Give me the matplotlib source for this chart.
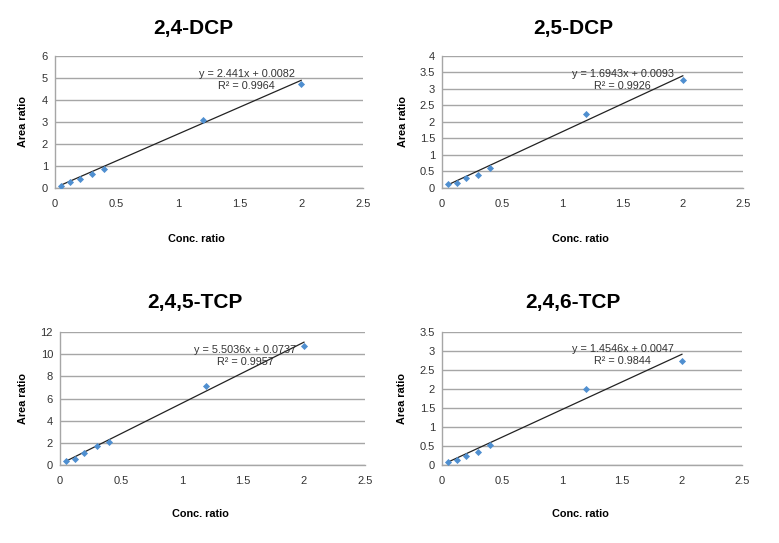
import numpy as np
import matplotlib
matplotlib.use("Agg")
import matplotlib.pyplot as plt
from matplotlib.ticker import FuncFormatter

plt.rcParams['font.family'] = ['Liberation Sans', 'DejaVu Sans']

# concentration ratios (same for every compound)
conc = [0.05, 0.125, 0.2, 0.3, 0.4, 1.2, 2.0]

titles = ['2,4-DCP', '2,5-DCP', '2,4,5-TCP', '2,4,6-TCP']

# measured area ratios
area_24dcp = [0.10, 0.26, 0.42, 0.63, 0.86, 3.10, 4.73]
area_25dcp = [0.12, 0.15, 0.30, 0.40, 0.60, 2.24, 3.26]
area_245tcp = [0.39, 0.54, 1.05, 1.74, 2.07, 7.14, 10.7]
area_246tcp = [0.07, 0.13, 0.24, 0.35, 0.53, 2.00, 2.74]

# trendline coefficients and R squared as printed
slopes = [2.441, 1.6943, 5.5036, 1.4546]
intercepts = [0.0082, 0.0093, 0.0737, 0.0047]
eq_texts = ['y = 2.441x + 0.0082', 'y = 1.6943x + 0.0093',
            'y = 5.5036x + 0.0737', 'y = 1.4546x + 0.0047']
r2_texts = ['R² = 0.9964', 'R² = 0.9926', 'R² = 0.9957', 'R² = 0.9844']

y_max = [6, 4, 12, 3.5]
y_step = [1, 0.5, 2, 0.5]

areas = [area_24dcp, area_25dcp, area_245tcp, area_246tcp]

# layout (figure fractions)
rects = [[0.0706, 0.654, 0.395, 0.243],
         [0.5674, 0.654, 0.3864, 0.243],
         [0.077, 0.1436, 0.3915, 0.245],
         [0.5674, 0.1436, 0.385, 0.245]]
title_pos = [(0.248, 0.948), (0.7356, 0.948), (0.25, 0.442), (0.7356, 0.442)]
ylab_x = [-0.088, -0.113, -0.105, -0.117]
xlab_y = [-0.35, -0.35, -0.33, -0.33]
eq_pos = [(0.623, 0.818), (0.60, 0.818), (0.607, 0.82), (0.603, 0.827)]

grid_c = '#a6a6a6'
fig = plt.figure(figsize=(7.79, 5.43), dpi=100)

for i in range(4):
    ax = fig.add_axes(rects[i])
    ax.set_xlim(0, 2.5)
    ax.set_ylim(0, y_max[i])
    ax.set_xticks(np.arange(0, 2.51, 0.5))
    ax.set_yticks(np.arange(0, y_max[i] + 1e-9, y_step[i]))
    fmt = FuncFormatter(lambda v, p: '{:g}'.format(round(v, 3)))
    ax.xaxis.set_major_formatter(fmt)
    ax.yaxis.set_major_formatter(fmt)
    ax.tick_params(length=0, labelsize=8, colors='#333333')
    ax.tick_params(axis='x', pad=8)
    ax.tick_params(axis='y', pad=5)
    ax.grid(axis='y', color=grid_c, lw=1.0)
    ax.set_axisbelow(True)
    for s in ['top', 'right']:
        ax.spines[s].set_visible(False)
    for s in ['left', 'bottom']:
        ax.spines[s].set_color(grid_c)
        ax.spines[s].set_linewidth(1.0)

    xs = np.array([conc[0], conc[-1]])
    ax.plot(xs, slopes[i] * xs + intercepts[i], color='#222222', lw=0.9, zorder=3)
    ax.scatter(conc, areas[i], marker='D', s=13, color='#4F8FD0', zorder=4,
               linewidths=0)

    ax.text(eq_pos[i][0], eq_pos[i][1], eq_texts[i] + '\n' + r2_texts[i],
            transform=ax.transAxes, ha='center', va='center',
            multialignment='center', fontsize=7.8, color='#333333',
            linespacing=1.2, zorder=5)

    ax.set_xlabel('Conc. ratio', fontsize=7.8, fontweight='bold')
    ax.xaxis.set_label_coords(0.46, xlab_y[i])
    ax.set_ylabel('Area ratio', fontsize=7.8, fontweight='bold')
    ax.yaxis.set_label_coords(ylab_x[i], 0.5)

    fig.text(title_pos[i][0], title_pos[i][1], titles[i], ha='center',
             va='center', fontsize=15, fontweight='bold')

fig.savefig('out.png', dpi=100)
